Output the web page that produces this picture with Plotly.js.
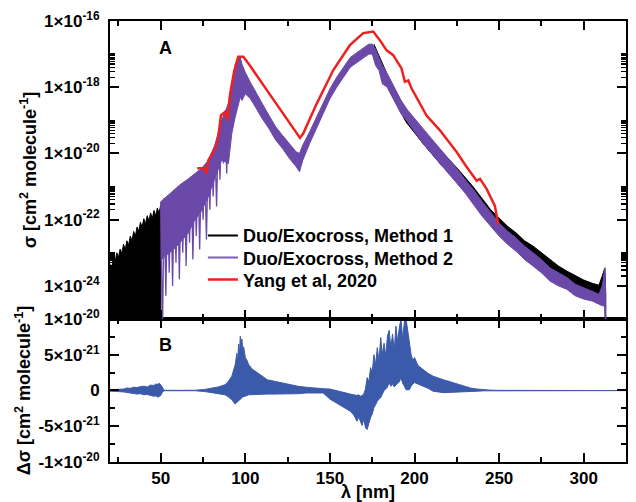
<!DOCTYPE html>
<html>
<head>
<meta charset="utf-8">
<script src="https://cdn.plot.ly/plotly-3.0.1.min.js"></script>
<style>html,body{margin:0;padding:0;background:#fff;}</style>
</head>
<body>
<div id="chart" style="width:636px;height:502px;"></div>
<script>
// ---- Panel A: Duo/Exocross Method 1 (black), short-wavelength part (upper edge of dense band) ----
const m1a_x = [20,21,22,23,24,25,26,27,28,29,30,31,32,33,34,35,36,37,38,39,40,41,42,43,44,45,46,47,48,49,50];
const m1a_top = [4.5e-24,3.5e-24,7.1e-24,5.3e-24,1.0e-23,7.2e-24,1.3e-23,9.6e-24,1.8e-23,1.25e-23,2.3e-23,1.7e-23,3.2e-23,2.3e-23,4.4e-23,3.2e-23,6.0e-23,4.4e-23,8.3e-23,5.9e-23,1.07e-22,7.4e-23,1.32e-22,9.0e-23,1.6e-22,1.08e-22,1.9e-22,1.3e-22,2.24e-22,1.55e-22,2.8e-22];
// Method 1 long-wavelength tail (band: upper / lower edge)
const m1b_x  = [176,185,195,205,215,225,235,245,250,255,260,265,270,275,280,285,290,295,300,305,309,311,312.5,313];
const m1b_hi = [2.0e-17,1.8e-18,2.0e-19,5.0e-20,1.3e-20,3.7e-21,9.3e-22,2.0e-22,1.1e-22,6.3e-23,4.0e-23,2.3e-23,1.6e-23,1.0e-23,6.3e-24,4.0e-24,2.8e-24,2.0e-24,1.5e-24,1.2e-24,1.05e-24,2.0e-24,3.5e-24,6.3e-25];
const m1b_lo = [1.0e-17,7.9e-19,8.9e-20,2.0e-20,5.0e-21,1.4e-21,3.5e-22,7.9e-23,4.5e-23,2.5e-23,1.8e-23,1.0e-23,7.1e-24,4.0e-24,2.8e-24,1.8e-24,1.26e-24,8.9e-25,7.1e-25,5.6e-25,5.0e-25,4.5e-25,4.5e-25,1e-26];

// ---- Method 2 (purple): spiky part 50-90 nm (individual spikes) ----
const m2a_x = [50,51,52,53,54,55,56,57,58,59,60,61,62,63,64,65,66,67,68,69,70,71,72,73,74,75,76,77,78,79,80,81,82,83,84,85,86,87,88,89,90];
const m2a_y = [3.5e-22,3e-26,4.5e-22,5e-25,5.2e-22,2.5e-24,6.3e-22,1e-24,7.6e-22,5e-24,1.0e-21,1.6e-24,1.2e-21,1e-23,1.4e-21,4e-24,1.66e-21,2e-23,2.0e-21,6.3e-24,2.4e-21,3.2e-23,3.0e-21,1.26e-23,3.5e-21,1e-22,4.5e-21,2.5e-23,6e-21,2e-22,1.0e-20,5e-22,1.8e-20,2.5e-22,4e-20,1.6e-21,1.0e-19,5e-21,1.26e-19,2.5e-21,3.2e-19];
// dense body of the 50-90 nm part (upper / lower edge)
const m2c_x  = [50,54,58,62,66,70,74,78,82,86,90];
const m2c_hi = [3.5e-22,5.2e-22,7.6e-22,1.2e-21,1.66e-21,2.4e-21,3.5e-21,6e-21,1.8e-20,1.0e-19,3.2e-19];
const m2c_lo = [6e-24,9e-24,1.3e-23,2.2e-23,3.8e-23,9.5e-23,1.8e-22,4.8e-22,1.8e-21,6.3e-21,5.0e-21];
// Method 2 band 90-313 nm
const m2b_x  = [90,92,94,96,97,98,100,103,106,110,114,118,122,126,130,132,134,138,142,146,150,154,158,162,166,170,173,175,177,179,181,184,188,192,196,200,205,210,215,220,225,230,235,240,245,250,255,260,265,270,275,280,285,290,295,300,305,309,311,312.5,313];
const m2b_hi = [3.2e-19,1.26e-18,5.0e-18,7.9e-18,7.9e-18,5.0e-18,2.8e-18,1.4e-18,7.1e-19,3.2e-19,1.4e-19,6.3e-20,3.5e-20,2.0e-20,1.12e-20,1.0e-20,1.8e-20,4.5e-20,1.26e-19,3.2e-19,8.9e-19,2.0e-18,4.0e-18,7.9e-18,1.12e-17,1.6e-17,2.0e-17,2.0e-17,1.4e-17,7.9e-18,4.5e-18,2.5e-18,1.0e-18,4.0e-19,2.0e-19,1.12e-19,5.6e-20,2.8e-20,1.4e-20,7.1e-21,3.5e-21,1.6e-21,7.9e-22,3.5e-22,1.6e-22,7.9e-23,4.5e-23,2.8e-23,1.6e-23,1.0e-23,6.3e-24,3.5e-24,2.5e-24,1.8e-24,1.12e-24,8.9e-25,7.1e-25,5.6e-25,1.0e-24,3.5e-24,5.0e-25];
const m2b_lo = [5.0e-21,4.0e-20,1.26e-19,3.2e-19,5.0e-19,4.0e-19,6.3e-19,4.5e-19,2.5e-19,1.12e-19,5.6e-20,2.5e-20,1.4e-20,7.1e-21,4.0e-21,2.8e-21,6.3e-21,2.0e-20,6.3e-20,1.6e-19,4.5e-19,1.0e-18,2.0e-18,4.0e-18,5.6e-18,7.9e-18,1.0e-17,1.0e-17,4.5e-18,3.2e-18,1.26e-18,1.0e-18,4.0e-19,1.6e-19,8.9e-20,4.5e-20,2.0e-20,1.0e-20,5.0e-21,2.5e-21,1.26e-21,6.3e-22,2.8e-22,1.26e-22,6.3e-23,3.2e-23,1.8e-23,1.12e-23,6.3e-24,4.0e-24,2.5e-24,1.4e-24,1.0e-24,7.9e-25,5.0e-25,4.0e-25,3.5e-25,2.8e-25,2.5e-25,2.5e-25,1e-26];

// ---- Yang et al, 2020 (red) ----
const yang_x = [71.6,76.1,77.1,78.1,82.1,84.0,85.6,88.0,89.5,90.9,93.3,95.8,98.8,102.7,112.6,122.4,132.3,134.2,142.2,152.0,161.8,169.7,175.6,179.6,183.5,187.4,192.3,194.3,196.3,198.3,202,207.1,215.0,220.9,224.9,230,236.7,238.7,242.6,247.5,249.5];
const yang_y = [3.6e-21,3.6e-21,2.45e-21,6.2e-21,1.4e-20,3.2e-20,1.4e-19,1.8e-19,1.0e-19,5.8e-19,2.9e-18,8.3e-18,8.3e-18,4.5e-18,8.3e-19,1.6e-19,2.95e-20,4.0e-20,3.2e-19,3.3e-18,1.86e-17,4.3e-17,4.8e-17,2.6e-17,1.3e-17,9.3e-18,3.7e-18,1.45e-18,1.6e-18,9.1e-19,4.0e-19,1.4e-19,5.0e-20,2.0e-20,1.1e-20,4.5e-21,1.5e-21,1.7e-21,8.5e-22,2.6e-22,7.1e-23];

// ---- Panel B: difference (band upper / lower edge) ----
const d_x  = [20,25,28,30,32,34,36,38,40,42,44,46,47,48,49,50,51,52,60,70,76,80,84,88,90,92,93,94,95,95.5,96,96.5,97,97.5,98,98.5,99,100,101,102,104,107,110,113,117,121,126,131,136,141,146,150,153,156,159,162,164,166,167,168,169,170,171,172,173,174,175,176,177,178,179,180,181,182,183,184,185,186,187,188,189,190,191,192,193,194,195,196,197,198,199,200,202,205,208,211,214,217,220,223,226,229,233,237,241,245,250,325];
const d_hi = [1e-22,1.5e-22,2e-22,3.5e-22,3e-22,4.5e-22,4e-22,5.5e-22,6e-22,5e-22,7.5e-22,7e-22,9e-22,8.5e-22,1.0e-21,8e-22,3e-22,3e-23,2e-23,3e-23,1.5e-22,3e-22,5e-22,8e-22,1.3e-21,2.0e-21,2.8e-21,3.6e-21,5.2e-21,4.0e-21,6.5e-21,5.0e-21,7.6e-21,6.3e-21,7.2e-21,5.5e-21,6.1e-21,4.6e-21,4.2e-21,3.6e-21,3.0e-21,2.5e-21,1.9e-21,1.5e-21,1.3e-21,1.1e-21,8e-22,6e-22,4.5e-22,3e-22,2.5e-22,2e-22,0,-1e-22,-3e-22,-5e-22,-6e-22,-7e-22,-6e-22,-8e-22,-7e-22,-5e-22,2e-22,1.8e-21,1.2e-21,3.2e-21,2.5e-21,5.0e-21,3.6e-21,6.0e-21,4.0e-21,7.4e-21,5.0e-21,6.6e-21,4.8e-21,7.6e-21,8.4e-21,6.0e-21,7.9e-21,5.6e-21,9.0e-21,6.8e-21,8.8e-21,1.0e-20,7.2e-21,9.6e-21,1.0e-20,8.4e-21,6.4e-21,5.0e-21,4.2e-21,4.6e-21,3.5e-21,2.9e-21,2.4e-21,2.0e-21,1.7e-21,1.5e-21,1.3e-21,1.1e-21,8e-22,6e-22,3.5e-22,2e-22,1e-22,5e-23,2e-23,1e-23];
const d_lo = [-1e-22,-1.5e-22,-2e-22,-3e-22,-3.5e-22,-4e-22,-5e-22,-4.5e-22,-6e-22,-5.5e-22,-7e-22,-8e-22,-7.5e-22,-9e-22,-8.5e-22,-7e-22,-2e-22,-3e-23,-2e-23,-3e-23,-1.5e-22,-3e-22,-4.5e-22,-6e-22,-9e-22,-1.3e-21,-1.6e-21,-1.9e-21,-1.7e-21,-1.5e-21,-1.4e-21,-1.3e-21,-1.2e-21,-1.1e-21,-1.0e-21,-9e-22,-8e-22,-7.5e-22,-7e-22,-6e-22,-5.5e-22,-5e-22,-5e-22,-5e-22,-5e-22,-5.5e-22,-5e-22,-4.5e-22,-3.5e-22,-3e-22,-3.5e-22,-1.2e-21,-1.6e-21,-2.0e-21,-2.5e-21,-2.9e-21,-3.4e-21,-4.3e-21,-3.7e-21,-4.4e-21,-4.9e-21,-4.0e-21,-5.2e-21,-5.45e-21,-4.6e-21,-3.8e-21,-3.3e-21,-2.4e-21,-2.0e-21,-1.5e-21,-1.2e-21,-1.0e-21,-5e-22,0,2e-22,5e-22,1.1e-21,6e-22,9e-22,5e-22,8e-22,1.0e-21,1.2e-21,1.8e-21,1.0e-21,6e-22,1e-22,1e-22,1e-22,6e-22,9e-22,1.1e-21,8e-22,6e-22,3e-22,-1e-22,-2e-22,-3e-22,-3e-22,-3e-22,-2.5e-22,-2e-22,-1.5e-22,-1e-22,-5e-23,-3e-23,-2e-23,-1e-23];

// tick labels
const topTickVals = [1e-24,1e-22,1e-20,1e-18,1e-16];
const topTickText = ['1×10<sup>-24</sup>','1×10<sup>-22</sup>','1×10<sup>-20</sup>','1×10<sup>-18</sup>','1×10<sup>-16</sup>'];
const botTickVals = [-1e-20,-5e-21,0,5e-21,1e-20];
const botTickText = ['-1×10<sup>-20</sup>','-5×10<sup>-21</sup>','0','5×10<sup>-21</sup>','1×10<sup>-20</sup>'];

const BLACK = '#000000', PURPLE = '#6b49a8', RED = '#ee2020', BLUE = '#3c5aaa';
const FLOOR = 1e-26;

function rev(a){ return a.slice().reverse(); }

const traces = [
  {x: m1a_x.concat([50,20]), y: m1a_top.concat([FLOOR,FLOOR]), xaxis:'x2', yaxis:'y',
   mode:'lines', fill:'toself', fillcolor:BLACK, line:{color:BLACK,width:1}, showlegend:false, hoverinfo:'skip'},
  {x: m1b_x.concat(rev(m1b_x)), y: m1b_hi.concat(rev(m1b_lo)), xaxis:'x2', yaxis:'y',
   mode:'lines', fill:'toself', fillcolor:BLACK, line:{color:BLACK,width:1}, showlegend:false, hoverinfo:'skip'},
  {x:[null], y:[null], xaxis:'x2', yaxis:'y', mode:'lines', line:{color:BLACK,width:2}, name:'Duo/Exocross, Method 1', legend:'legend'},
  {x:[null], y:[null], xaxis:'x2', yaxis:'y', mode:'lines', line:{color:'#7a5cc0',width:2}, name:'Duo/Exocross, Method 2', legend:'legend2'},
  {x: m2c_x.concat(rev(m2c_x)), y: m2c_hi.concat(rev(m2c_lo)), xaxis:'x2', yaxis:'y',
   mode:'lines', fill:'toself', fillcolor:PURPLE, line:{color:PURPLE,width:1}, showlegend:false, hoverinfo:'skip'},
  {x: m2a_x, y: m2a_y, xaxis:'x2', yaxis:'y', mode:'lines', line:{color:PURPLE,width:1.3}, showlegend:false, hoverinfo:'skip'},
  {x: m2b_x.concat(rev(m2b_x)), y: m2b_hi.concat(rev(m2b_lo)), xaxis:'x2', yaxis:'y',
   mode:'lines', fill:'toself', fillcolor:PURPLE, line:{color:PURPLE,width:1}, showlegend:false, hoverinfo:'skip'},
  {x: yang_x, y: yang_y, xaxis:'x2', yaxis:'y', mode:'lines', line:{color:RED,width:2.5}, name:'Yang et al, 2020', legend:'legend3'},
  {x: d_x.concat(rev(d_x)), y: d_hi.concat(rev(d_lo)), xaxis:'x', yaxis:'y2',
   mode:'lines', fill:'toself', fillcolor:BLUE, line:{color:BLUE,width:1}, showlegend:false, hoverinfo:'skip'}
];

const minorTop = [];
[-24,-22,-20,-18].forEach(function(k){ for (let m=2;m<=10;m++) minorTop.push(m*Math.pow(10,k)); });

const FONT = 'Liberation Sans, Arial, Helvetica, sans-serif';
const axisCommon = {
  showline:true, linewidth:2, linecolor:'#000', mirror:'allticks',
  ticks:'inside', ticklen:9, tickwidth:2, tickcolor:'#000',
  showgrid:false, zeroline:false,
  tickfont:{family:FONT, size:17, color:'#000', weight:'bold'}
};
function legendAt(yPaper){
  return {x:0.18, y:yPaper, xanchor:'left', yanchor:'middle', bgcolor:'rgba(0,0,0,0)', borderwidth:0,
          font:{family:FONT, size:18, color:'#000', weight:'bold'}};
}

const BOT = 0.3243;
const layout = {
  width:636, height:502,
  margin:{l:110, r:10, t:21, b:40},
  paper_bgcolor:'#fff', plot_bgcolor:'#fff',
  font:{family:FONT, size:18, color:'#000', weight:'bold'},
  showlegend:true,
  legend: legendAt(0.513),
  legend2: legendAt(0.463),
  legend3: legendAt(0.413),
  xaxis: Object.assign({}, axisCommon, {
    anchor:'y2', domain:[0,1], range:[20,325], tickmode:'linear', tick0:0, dtick:50,
    minor:{tickmode:'linear', tick0:0, dtick:25, ticks:'inside', ticklen:5, tickwidth:2, tickcolor:'#000'},
    title:{text:'λ [nm]', standoff:4, font:{family:FONT, size:18, color:'#000', weight:'bold'}}
  }),
  xaxis2: Object.assign({}, axisCommon, {
    anchor:'y', domain:[0,1], range:[20,325], tickmode:'linear', tick0:0, dtick:50, showticklabels:false,
    minor:{tickmode:'linear', tick0:0, dtick:25, ticks:'inside', ticklen:5, tickwidth:2, tickcolor:'#000'}
  }),
  yaxis: Object.assign({}, axisCommon, {
    anchor:'x2', domain:[BOT,1], type:'log', range:[-25,-16], ticklabelstandoff:5,
    tickmode:'array', tickvals:topTickVals, ticktext:topTickText,
    minor:{tickmode:'array', tickvals:minorTop, ticks:'inside', ticklen:5, tickwidth:1.5, tickcolor:'#000'},
    title:{text:'σ [cm<sup>2</sup> molecule<sup>-1</sup>]', standoff:3, font:{family:FONT, size:18, color:'#000', weight:'bold'}}
  }),
  yaxis2: Object.assign({}, axisCommon, {
    anchor:'x', domain:[0,BOT], range:[-1e-20,1e-20], ticklabelstandoff:5,
    tickmode:'array', tickvals:botTickVals, ticktext:botTickText,
    minor:{tickmode:'array', tickvals:[-7.5e-21,-2.5e-21,2.5e-21,7.5e-21], ticks:'inside', ticklen:5, tickwidth:2, tickcolor:'#000'},
    title:{text:'Δσ [cm<sup>2</sup> molecule<sup>-1</sup>]', standoff:3, font:{family:FONT, size:18, color:'#000', weight:'bold'}}
  }),
  annotations:[
    {text:'A', xref:'paper', yref:'paper', x:0.1066, y:0.939, showarrow:false, xanchor:'center', yanchor:'middle',
     font:{family:FONT, size:18, color:'#000', weight:'bold'}},
    {text:'B', xref:'paper', yref:'paper', x:0.1085, y:0.265, showarrow:false, xanchor:'center', yanchor:'middle',
     font:{family:FONT, size:18, color:'#000', weight:'bold'}}
  ]
};

Plotly.newPlot('chart', traces, layout, {displayModeBar:false, staticPlot:true});
</script>
</body>
</html>
